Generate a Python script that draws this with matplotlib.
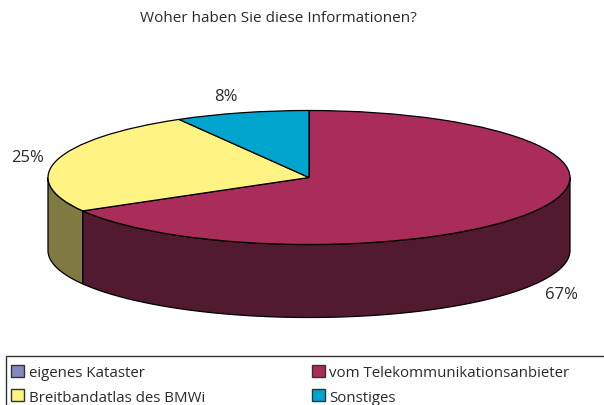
import numpy as np
import matplotlib
matplotlib.use("Agg")
import matplotlib.pyplot as plt
from matplotlib.patches import Patch, Rectangle

plt.rcParams['font.family'] = ['Open Sans', 'DejaVu Sans']

labels = ["eigenes Kataster", "vom Telekommunikationsanbieter", "Breitbandatlas des BMWi", "Sonstiges"]
values = [0, 66.7, 25.0, 8.3]
top_colors = ["#8388C0", "#A92C5A", "#FFF383", "#00A5CE"]
side_colors = ["#41446A", "#521A2E", "#7F7A42", "#005A70"]
title = "Woher haben Sie diese Informationen?"
text_color = "#2A2A2A"

W, H = 604, 406
cx, cy = 309, 178.5  # pie centre in pixels
rx, ry = 261, 67     # ellipse radii
depth = 73 / ry      # wall height, in pie radii

fig = plt.figure(figsize=(W / 100, H / 100), dpi=100)
ax = fig.add_axes([0, 0, 1, 1])

# side wall, only the front half of the ellipse shows
edges = np.cumsum([0] + values) / sum(values) * 360
for i in range(len(values)):
    a0, a1 = max(edges[i], 90), min(edges[i + 1], 270)
    if a1 <= a0:
        continue
    t = np.radians(np.linspace(a0, a1, 100))
    x, y = np.sin(t), np.cos(t)
    ax.fill(np.r_[x, x[::-1]], np.r_[y, y[::-1] - depth],
            facecolor=side_colors[i], edgecolor="black", lw=0.9, zorder=1)

# top of the pie
wedges, _ = ax.pie(values, colors=top_colors, startangle=90, counterclock=False,
                   wedgeprops=dict(edgecolor="black", linewidth=0.9, zorder=2))

# pie() forces equal aspect, flatten it again
ax.set_aspect("auto")
ax.set_xlim(-cx / rx, (W - cx) / rx)
ax.set_ylim(-(H - cy) / ry, cy / ry)
ax.axis("off")

# labels in pixel positions
def px(x, y, s, **kw):
    fig.text(x / W, 1 - y / H, s, ha="center", va="center", color=text_color, **kw)

px(278, 19, title, fontsize=11)
px(561, 295, f"{values[1]:.0f}%", fontsize=12)
px(28, 158, f"{values[2]:.0f}%", fontsize=12)
px(226, 97, f"{values[3]:.0f}%", fontsize=12)

# legend box runs off the bottom and right edge
fig.add_artist(Rectangle((6 / W, -0.05), 1, 1 - 357 / H + 0.05, transform=fig.transFigure,
                         facecolor="white", edgecolor="#333333", lw=1))
handles = [Patch(facecolor=c, edgecolor="#333333", lw=1) for c in top_colors]
order = [0, 2, 1, 3]
fig.legend([handles[i] for i in order], [labels[i] for i in order], ncol=2, frameon=False,
           loc="upper left", bbox_to_anchor=(5 / W, 1 - 360 / H), fontsize=10.8,
           labelcolor=text_color, handlelength=0.85, handleheight=0.85, handletextpad=0.33,
           columnspacing=7.1, labelspacing=0.6, borderpad=0.42, borderaxespad=0)

plt.savefig("out.png", dpi=100)
plt.close()
